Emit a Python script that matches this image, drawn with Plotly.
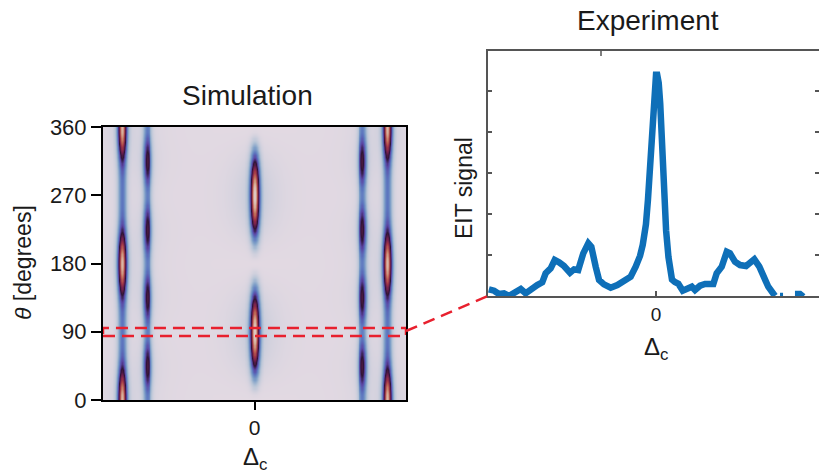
import numpy as np
import plotly.graph_objects as go

# ---------------- Simulation (heatmap) parameters ----------------
sim_line_pos = [-0.875, -0.71, 0.0, 0.71, 0.875]      # Δc positions of the resonances (normalised)
sim_line_base = [0.30, 0.28, 0.0, 0.28, 0.30]          # background strength of each line
sim_line_mod = [0.62, 0.26, 0.95, 0.26, 0.62]          # modulation strength with θ
sim_line_kind = ["cos4", "sin2x2", "sin2", "sin2x2", "cos4"]  # angular dependence
sim_line_width = [0.027, 0.027, 0.028, 0.027, 0.027]
theta_ticks = [0, 90, 180, 270, 360]

# ---------------- Experiment (EIT trace at θ ≈ 90°) ----------------
exp_x = [-0.995, -0.964, -0.935, -0.905, -0.875, -0.835, -0.805, -0.776, -0.746, -0.707,
         -0.677, -0.657, -0.627, -0.603, -0.577, -0.548, -0.512, -0.488, -0.463, -0.433,
         -0.403, -0.385, -0.359, -0.339, -0.310, -0.270, -0.230, -0.190, -0.151, -0.121,
         -0.095, -0.079, -0.060, -0.048, -0.036, -0.025, -0.015, -0.006, 0.0, 0.007,
         0.016, 0.025, 0.036, 0.048, 0.060, 0.074, 0.083, 0.095, 0.112, 0.133,
         0.159, 0.183, 0.213, 0.232, 0.262, 0.292, 0.321,
         0.341, 0.361, 0.391, 0.421, 0.440, 0.470, 0.500, 0.536, 0.560, 0.585,
         0.615, 0.639, 0.668, 0.708, None, 0.738, 0.756, None, 0.827, 0.857, 0.877]
exp_y = [0.163, 0.129, 0.049, 0.066, 0.0, 0.122, 0.171, 0.066, 0.171, 0.268,
         0.334, 0.554, 0.676, 0.878, 0.822, 0.732, 0.568, 0.651, 0.634, 1.041,
         1.285, 1.202, 0.715, 0.390, 0.285, 0.202, 0.268, 0.390, 0.471, 0.715,
         0.98, 1.25, 1.75, 2.35, 3.25, 4.20, 4.85, 5.25, 5.40, 5.40,
         5.20, 4.70, 3.60, 2.50, 1.60, 0.95, 0.55, 0.40, 0.34, 0.30,
         0.129, 0.188, 0.227, 0.146, 0.251, 0.293, 0.285,
         0.293, 0.554, 0.715, 1.080, 1.041, 0.837, 0.756, 0.732, 0.837, 0.895,
         0.715, 0.512, 0.227, 0.0, None, 0.0, 0.0, None, 0.049, 0.049, -0.017]

# ---------------- build simulated map ----------------
xs = np.linspace(-1, 1, 320)
ths = np.linspace(0, 360, 241)
X, T = np.meshgrid(xs, np.deg2rad(ths))
Z = np.zeros_like(X)
for p, b, m, k, w in zip(sim_line_pos, sim_line_base, sim_line_mod, sim_line_kind, sim_line_width):
    if k == "cos4":
        ang = np.cos(T) ** 4
    elif k == "sin2x2":
        ang = np.sin(2 * T) ** 2
    else:
        ang = np.sin(T) ** 2
    amp = b + m * ang
    d = (X - p) / w
    Z += amp * (0.88 * np.exp(-d ** 2) + 0.12 / (1 + (d / 1.6) ** 2))
# faint broad halo round the central resonance
Z += 0.025 * np.sin(T) ** 2 * np.exp(-(X / 0.18) ** 2)
Z = np.clip(Z, 0, 0.96)

twilight = [
    [0.0, "#e2d9e2"], [0.1, "#b7c4d6"], [0.2, "#7fa0c8"], [0.3, "#5d77bf"],
    [0.4, "#5a45a3"], [0.5, "#2f1436"], [0.6, "#6a1d4b"], [0.7, "#9e3545"],
    [0.8, "#be6a58"], [0.9, "#d6ab98"], [1.0, "#e2d9e2"],
]

W, H = 819, 474
def px(x):
    return x / W
def py(y):
    return 1 - y / H

fig = go.Figure()
fig.add_trace(go.Heatmap(x=xs, y=ths, z=Z, colorscale=twilight, zmin=0, zmax=1,
                         zsmooth="best", showscale=False, xaxis="x", yaxis="y",
                         hoverinfo="skip"))
fig.add_trace(go.Scatter(x=exp_x, y=exp_y, mode="lines", xaxis="x2", yaxis="y2",
                         line=dict(color="#0e6fb8", width=6.5), connectgaps=False,
                         hoverinfo="skip"))

FONT = "Liberation Sans, Arial, sans-serif"
red = "#e8202e"
TXT = "#1a1a1a"

fig.update_layout(
    width=W, height=H, margin=dict(l=0, r=0, t=0, b=0, pad=0, autoexpand=False),
    paper_bgcolor="white", plot_bgcolor="white", showlegend=False,
    font=dict(family=FONT, size=21, color=TXT),
    xaxis=dict(domain=[px(103), px(406)], range=[-1, 1], tickvals=[0], ticktext=["0"],
               ticks="outside", ticklen=8, tickwidth=2, tickcolor="black",
               showline=True, linecolor="black", linewidth=2, mirror=True,
               showgrid=False, zeroline=False, tickfont=dict(size=21), automargin=False),
    yaxis=dict(domain=[py(400), py(127)], range=[0, 360], tickvals=theta_ticks,
               ticks="outside", ticklen=10, tickwidth=2, tickcolor="black",
               showline=True, linecolor="black", linewidth=2, mirror=True,
               showgrid=False, zeroline=False, tickfont=dict(size=22), automargin=False),
    xaxis2=dict(domain=[px(488), 1.0], range=[-1, 0.97], anchor="y2", tickvals=[0],
                ticktext=["0"], ticks="inside", ticklen=5, tickwidth=1.5,
                tickcolor="#555555", showline=True, linecolor="#555555", linewidth=1.8,
                mirror=True, showgrid=False, zeroline=False, tickfont=dict(size=19),
                automargin=False),
    yaxis2=dict(domain=[py(296), py(51)], range=[0, 5.98], anchor="x2",
                tickvals=[1, 2, 3, 4, 5], showticklabels=False, ticks="inside",
                ticklen=4, tickwidth=1.5, tickcolor="#555555", showline=True,
                linecolor="#555555", linewidth=1.8, mirror="allticks",
                showgrid=False, zeroline=False, automargin=False),
)

# red dashed selection box and connector
fig.add_shape(type="rect", xref="x", yref="y", x0=-1, x1=1, y0=84.5, y1=95,
              line=dict(color=red, width=2.5, dash="12px,7px"))
fig.add_shape(type="line", xref="paper", yref="paper", x0=px(406), y0=py(331),
              x1=px(488), y1=py(296), line=dict(color=red, width=2.5, dash="12px,7px"))
# small top tick on experiment frame
fig.add_shape(type="line", xref="paper", yref="paper", x0=px(601), x1=px(601),
              y0=py(51), y1=py(56), line=dict(color="#555555", width=1.5))

ann = [
    dict(text="Simulation", x=px(247), y=py(96), size=28),
    dict(text="Experiment", x=px(648), y=py(20), size=28),
    dict(text="Δ<sub>c</sub>", x=px(255), y=py(458), size=24),
    dict(text="Δ<sub>c</sub>", x=px(656), y=py(348), size=24),
]
for a in ann:
    fig.add_annotation(text=a["text"], x=a["x"], y=a["y"], xref="paper", yref="paper",
                       showarrow=False, xanchor="center", yanchor="middle",
                       font=dict(size=a["size"], family=FONT, color=TXT))
fig.add_annotation(text="<i>θ</i> [degrees]", x=px(23), y=py(263), xref="paper",
                   yref="paper", showarrow=False, textangle=-90, xanchor="center",
                   yanchor="middle", font=dict(size=23, family=FONT, color=TXT))
fig.add_annotation(text="EIT signal", x=px(464), y=py(188), xref="paper", yref="paper",
                   showarrow=False, textangle=-90, xanchor="center", yanchor="middle",
                   font=dict(size=23, family=FONT, color=TXT))

fig.write_html("out.html")
